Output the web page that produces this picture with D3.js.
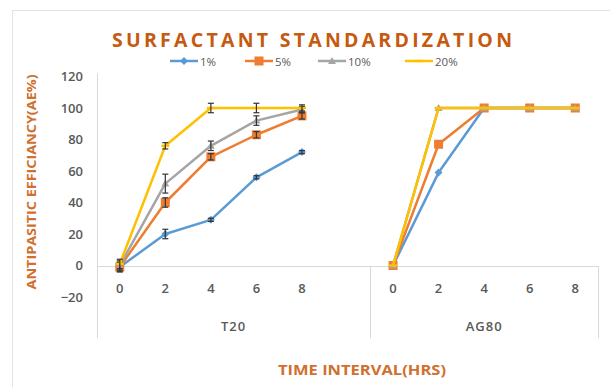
<!DOCTYPE html>
<html><head><meta charset="utf-8">
<script src="https://cdn.jsdelivr.net/npm/d3@7"></script>
<style>body{margin:0;background:#fff;}svg{display:block;}</style>
</head><body>
<script>
// ---- data ----
const groups = ["T20", "AG80"];
const times = ["0", "2", "4", "6", "8"];
const seriesNames = ["1%", "5%", "10%", "20%"];
const t20Values = {
  "1%":  [-1, 20, 29, 56, 72],
  "5%":  [-1, 40, 69, 83, 95],
  "10%": [0, 52, 76, 92, 99],
  "20%": [1, 76, 100, 100, 100]
};
const ag80Values = {
  "1%":  [0, 59, 100, 100, 100],
  "5%":  [0, 77, 100, 100, 100],
  "10%": [0, 100, 100, 100, 100],
  "20%": [0, 100, 100, 100, 100]
};
const t20Errors = {
  "1%":  [3, 3, 1, 1, 1],
  "5%":  [3, 3, 2, 2, 2],
  "10%": [3, 6, 3, 3, 2],
  "20%": [3, 2, 3, 3, 2]
};
const ag80Errors = {
  "1%":  [0, 0, 0, 0, 0],
  "5%":  [0, 0, 0, 0, 0],
  "10%": [0, 0, 0, 0, 0],
  "20%": [0, 0, 0, 0, 0]
};
const yTicks = [-20, 0, 20, 40, 60, 80, 100, 120];
const colors = ["#5b9bd5", "#ed7d31", "#a5a5a5", "#ffc000"];
const markers = ["diamond", "square", "triangle", "dash"];

(function () {
// ---- layout ----
const W = 610, H = 387;
const svg = d3.select("body").append("svg").attr("width", W).attr("height", H);
svg.append("rect").attr("x", 12.5).attr("y", 10.5).attr("width", 620).attr("height", 400)
  .attr("fill", "#fff").attr("stroke", "#e3e3e3");

const pLeft = 97, pRight = 598, pTop = 76.5, pBottom = 297;
const keys = [];
groups.forEach((g, gi) => {
  times.forEach(t => keys.push(g + "|" + t));
  if (gi < groups.length - 1) keys.push(g + "|gap");
});
const x = d3.scaleBand().domain(keys).range([pLeft, pRight]).padding(0);
const y = d3.scaleLinear().domain([-20, 120]).range([pBottom, pTop]);
const FONT = "'Open Sans', 'Liberation Sans', sans-serif";

// y axis
const yAxis = svg.append("g").attr("transform", `translate(${pLeft},0)`)
  .call(d3.axisLeft(y).tickValues(yTicks).tickSize(0).tickPadding(14));
yAxis.select(".domain").remove();
yAxis.selectAll("text").attr("font-family", FONT).attr("font-size", 13)
  .attr("font-weight", 600).attr("fill", "#595959");

// axis lines
const axisColor = "#d9d9d9";
svg.append("line").attr("x1", pLeft + 0.5).attr("x2", pLeft + 0.5).attr("y1", pTop - 3).attr("y2", 338)
  .attr("stroke", axisColor);
svg.append("line").attr("x1", pLeft).attr("x2", pRight).attr("y1", Math.round(y(0)) + 0.5).attr("y2", Math.round(y(0)) + 0.5)
  .attr("stroke", axisColor);

// x axis tick labels
const xAxis = svg.append("g").attr("transform", `translate(0,${y(0)})`)
  .call(d3.axisBottom(x).tickSize(0).tickPadding(18)
    .tickFormat(k => k.endsWith("|gap") ? "" : k.split("|")[1]));
xAxis.select(".domain").remove();
xAxis.selectAll("text").attr("font-family", FONT).attr("font-size", 13)
  .attr("font-weight", 600).attr("fill", "#595959");

// group dividers and labels
const groupBounds = groups.map((g) => {
  const gk = keys.filter(k => k.startsWith(g + "|"));
  return { g, x0: x(gk[0]), x1: x(gk[gk.length - 1]) + x.bandwidth() };
});
groupBounds.forEach(b => {
  svg.append("line").attr("x1", Math.round(b.x1) + 0.5).attr("x2", Math.round(b.x1) + 0.5)
    .attr("y1", Math.round(y(0))).attr("y2", 338).attr("stroke", axisColor);
  svg.append("text").attr("x", (b.x0 + b.x1) / 2).attr("y", 331).attr("text-anchor", "middle")
    .attr("font-family", FONT).attr("font-size", 13).attr("font-weight", 600)
    .attr("letter-spacing", 1).attr("fill", "#595959").text(b.g);
});

// marker drawing
function drawMarker(sel, type, color, cx, cy) {
  if (type === "diamond") {
    sel.append("path").attr("d", `M${cx},${cy - 4}L${cx + 4},${cy}L${cx},${cy + 4}L${cx - 4},${cy}Z`).attr("fill", color);
  } else if (type === "square") {
    sel.append("rect").attr("x", cx - 4.5).attr("y", cy - 4.5).attr("width", 9).attr("height", 9).attr("fill", color);
  } else if (type === "triangle") {
    sel.append("path").attr("d", `M${cx},${cy - 4}L${cx + 4},${cy + 3}L${cx - 4},${cy + 3}Z`).attr("fill", color);
  } else {
    sel.append("rect").attr("x", cx - 4).attr("y", cy - 1.2).attr("width", 8).attr("height", 2.4).attr("fill", color);
  }
}

// series
const plot = svg.append("g");
const line = d3.line().x(d => d.x).y(d => d.y);
seriesNames.forEach((s, si) => {
  groups.forEach(g => {
    const vals = g === "T20" ? t20Values[s] : ag80Values[s];
    const errs = g === "T20" ? t20Errors[s] : ag80Errors[s];
    const pts = times.map((t, i) => ({
      x: x(g + "|" + t) + x.bandwidth() / 2, y: y(vals[i]), v: vals[i], e: errs[i]
    }));
    plot.append("path").attr("d", line(pts)).attr("fill", "none")
      .attr("stroke", colors[si]).attr("stroke-width", 2.5).attr("stroke-linejoin", "round");
    pts.forEach(p => drawMarker(plot, markers[si], colors[si], p.x, p.y));
    pts.forEach(p => {
      if (p.e > 0) {
        const y1 = y(p.v + p.e), y2 = y(p.v - p.e);
        const eg = plot.append("g").attr("stroke", "#333").attr("stroke-width", 1.2);
        eg.append("line").attr("x1", p.x).attr("x2", p.x).attr("y1", y1).attr("y2", y2);
        eg.append("line").attr("x1", p.x - 3).attr("x2", p.x + 3).attr("y1", y1).attr("y2", y1);
        eg.append("line").attr("x1", p.x - 3).attr("x2", p.x + 3).attr("y1", y2).attr("y2", y2);
      }
    });
  });
});

// title
svg.append("text").attr("x", 112).attr("y", 47).attr("textLength", 400).attr("lengthAdjust", "spacing")
  .attr("font-family", FONT).attr("font-size", 19.5).attr("font-weight", 700)
  .attr("fill", "#c55a11").text("SURFACTANT STANDARDIZATION");

// legend
const legendX = [170, 245, 318, 405];
seriesNames.forEach((s, si) => {
  const lg = svg.append("g");
  const lx = legendX[si], ly = 61;
  lg.append("line").attr("x1", lx).attr("x2", lx + 28).attr("y1", ly).attr("y2", ly)
    .attr("stroke", colors[si]).attr("stroke-width", 2.5);
  drawMarker(lg, markers[si], colors[si], lx + 14, ly);
  lg.append("text").attr("x", lx + 30).attr("y", ly + 4.5).attr("font-family", FONT)
    .attr("font-size", 11.5).attr("fill", "#595959").text(s);
});

// axis titles
svg.append("text").attr("transform", `translate(36,182) rotate(-90)`).attr("text-anchor", "middle")
  .attr("font-family", FONT).attr("font-size", 12).attr("font-weight", 700).attr("fill", "#d0702f")
  .attr("textLength", 215).attr("lengthAdjust", "spacingAndGlyphs")
  .text("ANTIPASITIC EFFICIANCY(AE%)");
svg.append("text").attr("x", 362).attr("y", 375).attr("text-anchor", "middle")
  .attr("font-family", FONT).attr("font-size", 13.5).attr("font-weight", 700).attr("fill", "#d0702f")
  .attr("textLength", 168).attr("lengthAdjust", "spacingAndGlyphs")
  .text("TIME INTERVAL(HRS)");
})();
</script>
</body></html>
